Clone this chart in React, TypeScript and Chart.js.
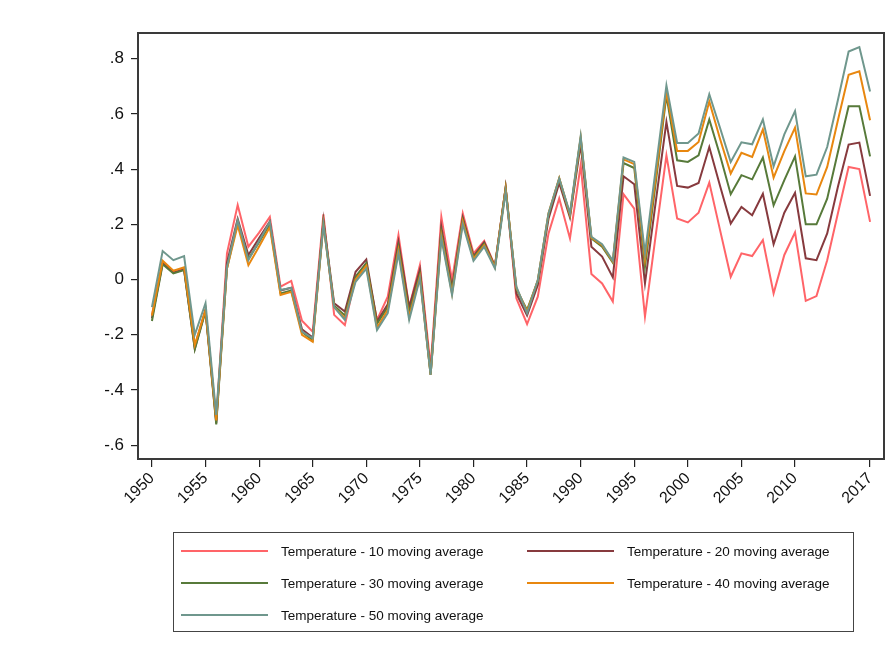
import React, { useEffect, useRef } from "react";
import { Chart, registerables } from "chart.js";

Chart.register(...registerables);

const years = [
  1950, 1951, 1952, 1953, 1954, 1955, 1956, 1957, 1958, 1959,
  1960, 1961, 1962, 1963, 1964, 1965, 1966, 1967, 1968, 1969,
  1970, 1971, 1972, 1973, 1974, 1975, 1976, 1977, 1978, 1979,
  1980, 1981, 1982, 1983, 1984, 1985, 1986, 1987, 1988, 1989,
  1990, 1991, 1992, 1993, 1994, 1995, 1996, 1997, 1998, 1999,
  2000, 2001, 2002, 2003, 2004, 2005, 2006, 2007, 2008, 2009,
  2010, 2011, 2012, 2013, 2014, 2015, 2016, 2017,
];

const ma10 = [
  -0.13, 0.065, 0.03, 0.04, -0.24, -0.11, -0.51, 0.095, 0.27, 0.119,
  0.17, 0.227, -0.026, -0.005, -0.149, -0.189, 0.236, -0.128, -0.165, 0.01,
  0.052, -0.146, -0.062, 0.161, -0.1, 0.052, -0.315, 0.227, -0.002, 0.24,
  0.095, 0.14, 0.05, 0.333, -0.068, -0.161, -0.062, 0.167, 0.294, 0.149,
  0.414, 0.02, -0.014, -0.08, 0.309, 0.257, -0.134, 0.16, 0.45, 0.221,
  0.207, 0.242, 0.351, 0.18, 0.01, 0.095, 0.085, 0.143, -0.05, 0.089,
  0.171, -0.077, -0.06, 0.07, 0.24, 0.408, 0.4, 0.209,
];

const ma20 = [
  -0.14, 0.06, 0.025, 0.036, -0.25, -0.11, -0.52, 0.06, 0.22, 0.089,
  0.15, 0.21, -0.04, -0.03, -0.18, -0.21, 0.215, -0.086, -0.116, 0.028,
  0.073, -0.152, -0.09, 0.137, -0.1, 0.036, -0.34, 0.19, -0.03, 0.225,
  0.085, 0.135, 0.048, 0.333, -0.05, -0.13, -0.02, 0.22, 0.35, 0.225,
  0.49, 0.119, 0.083, 0.008, 0.374, 0.345, -0.014, 0.28, 0.571, 0.339,
  0.333, 0.35, 0.48, 0.34, 0.203, 0.263, 0.233, 0.311, 0.128, 0.242,
  0.314, 0.077, 0.07, 0.167, 0.336, 0.489, 0.496, 0.303,
];

const ma30 = [
  -0.15, 0.055, 0.022, 0.034, -0.253, -0.115, -0.525, 0.04, 0.21, 0.075,
  0.135, 0.2, -0.05, -0.04, -0.19, -0.22, 0.205, -0.095, -0.13, 0.01,
  0.06, -0.16, -0.1, 0.12, -0.12, 0.02, -0.345, 0.173, -0.04, 0.217,
  0.08, 0.13, 0.046, 0.333, -0.035, -0.11, -0.005, 0.235, 0.365, 0.233,
  0.51, 0.149, 0.119, 0.061, 0.422, 0.404, 0.046, 0.35, 0.667, 0.432,
  0.426, 0.45, 0.58, 0.45, 0.309, 0.378, 0.363, 0.442, 0.269, 0.36,
  0.446, 0.2, 0.2, 0.293, 0.462, 0.628, 0.628, 0.446,
];

const ma40 = [
  -0.13, 0.068, 0.032, 0.044, -0.237, -0.11, -0.51, 0.04, 0.197, 0.052,
  0.12, 0.19, -0.056, -0.044, -0.2, -0.225, 0.2, -0.1, -0.14, 0.0,
  0.05, -0.175, -0.11, 0.107, -0.135, 0.01, -0.345, 0.16, -0.05, 0.21,
  0.075, 0.125, 0.045, 0.328, -0.03, -0.115, -0.003, 0.24, 0.368, 0.235,
  0.515, 0.152, 0.124, 0.065, 0.435, 0.418, 0.073, 0.37, 0.68, 0.466,
  0.466, 0.498, 0.645, 0.51, 0.384, 0.459, 0.444, 0.544, 0.369, 0.465,
  0.55, 0.312, 0.308, 0.408, 0.577, 0.742, 0.754, 0.577,
];

const ma50 = [
  -0.1, 0.103, 0.07, 0.085, -0.2, -0.086, -0.49, 0.046, 0.215, 0.07,
  0.14, 0.209, -0.038, -0.03, -0.189, -0.213, 0.2, -0.1, -0.146, -0.008,
  0.04, -0.183, -0.122, 0.095, -0.146, 0.004, -0.345, 0.149, -0.056, 0.2,
  0.068, 0.119, 0.04, 0.318, -0.026, -0.122, -0.002, 0.239, 0.366, 0.24,
  0.519, 0.155, 0.128, 0.068, 0.442, 0.426, 0.095, 0.4, 0.703, 0.495,
  0.495, 0.529, 0.671, 0.55, 0.426, 0.497, 0.49, 0.58, 0.41, 0.526,
  0.61, 0.374, 0.38, 0.48, 0.65, 0.826, 0.842, 0.681,
];

const seriesNames = [
  "Temperature - 10 moving average",
  "Temperature - 20 moving average",
  "Temperature - 30 moving average",
  "Temperature - 40 moving average",
  "Temperature - 50 moving average",
];
const seriesColors = ["#ff6468", "#873a3e", "#577a3a", "#e8870f", "#6f978d"];
const seriesValues = [ma10, ma20, ma30, ma40, ma50];

const xTicks = [1950, 1955, 1960, 1965, 1970, 1975, 1980, 1985, 1990, 1995, 2000, 2005, 2010, 2017];
const yTicks = [-0.6, -0.4, -0.2, 0, 0.2, 0.4, 0.6, 0.8];

const fmtY = (v: number) => {
  if (Math.abs(v) < 1e-9) return "0";
  const s = v.toFixed(1);
  return s.replace("0.", ".");
};

const framePlugin = {
  id: "frame",
  afterDraw(chart: any) {
    const { ctx, chartArea } = chart;
    ctx.save();
    ctx.strokeStyle = "#3a3a3a";
    ctx.lineWidth = 2;
    ctx.strokeRect(chartArea.left, chartArea.top, chartArea.right - chartArea.left, chartArea.bottom - chartArea.top);
    ctx.restore();
  },
};

export default function App() {
  const ref = useRef<HTMLCanvasElement | null>(null);

  useEffect(() => {
    if (!ref.current) return;
    const datasets = seriesValues.map((vals, i) => ({
      label: seriesNames[i],
      data: years.map((yr, j) => ({ x: yr, y: vals[j] })),
      borderColor: seriesColors[i],
      backgroundColor: seriesColors[i],
      borderWidth: 2,
      pointRadius: 0,
      tension: 0,
      order: 4 - i,
    }));
    const chart = new Chart(ref.current, {
      type: "line",
      data: { datasets },
      options: {
        animation: false,
        responsive: false,
        maintainAspectRatio: false,
        layout: { padding: { left: 0, top: 33, right: 10, bottom: 112 } },
        plugins: { legend: { display: false }, tooltip: { enabled: false } },
        scales: {
          x: {
            type: "linear",
            min: 1948.7,
            max: 2018.3,
            afterBuildTicks: (s: any) => {
              s.ticks = xTicks.map((v) => ({ value: v }));
            },
            afterFit: (s: any) => {
              s.height = 90;
            },
            border: { display: false },
            grid: { drawOnChartArea: false, drawTicks: true, tickLength: 8, color: "#222", lineWidth: 1.2 },
            ticks: {
              autoSkip: false,
              maxRotation: 45,
              minRotation: 45,
              padding: 2,
              color: "#111",
              font: { family: "'Liberation Sans', Arial, sans-serif", size: 16 },
              callback: (v: any) => String(v),
            },
          },
          y: {
            type: "linear",
            min: -0.65,
            max: 0.893,
            afterBuildTicks: (s: any) => {
              s.ticks = yTicks.map((v) => ({ value: v }));
            },
            afterFit: (s: any) => {
              s.width = 138;
            },
            border: { display: false },
            grid: { drawOnChartArea: false, drawTicks: true, tickLength: 7, color: "#222", lineWidth: 1.2 },
            ticks: {
              padding: 7,
              color: "#111",
              font: { family: "'Liberation Sans', Arial, sans-serif", size: 17 },
              callback: (v: any) => fmtY(Number(v)),
            },
          },
        },
      },
      plugins: [framePlugin],
    } as any);
    return () => chart.destroy();
  }, []);

  const legendRows = [
    [0, 1],
    [2, 3],
    [4],
  ];

  return (
    <div style={{ position: "fixed", left: 0, top: 0, width: 894, height: 661, background: "#fff" }}>
      <canvas ref={ref} width={894} height={661} style={{ position: "absolute", left: 0, top: 0, width: 894, height: 661 }} />
      <div
        style={{
          position: "absolute",
          left: 173,
          top: 532,
          width: 681,
          height: 100,
          border: "1.5px solid #444",
          boxSizing: "border-box",
          fontFamily: "'Liberation Sans', Arial, sans-serif",
          fontSize: 13.5,
          color: "#111",
        }}
      >
        {legendRows.map((row, r) =>
          row.map((idx, c) => (
            <div
              key={idx}
              style={{ position: "absolute", left: c === 0 ? 7 : 353, top: 8 + r * 32, height: 20, display: "flex", alignItems: "center" }}
            >
              <div style={{ width: 87, height: 2, background: seriesColors[idx] }} />
              <span style={{ marginLeft: 13, whiteSpace: "nowrap" }}>{seriesNames[idx]}</span>
            </div>
          ))
        )}
      </div>
    </div>
  );
}
